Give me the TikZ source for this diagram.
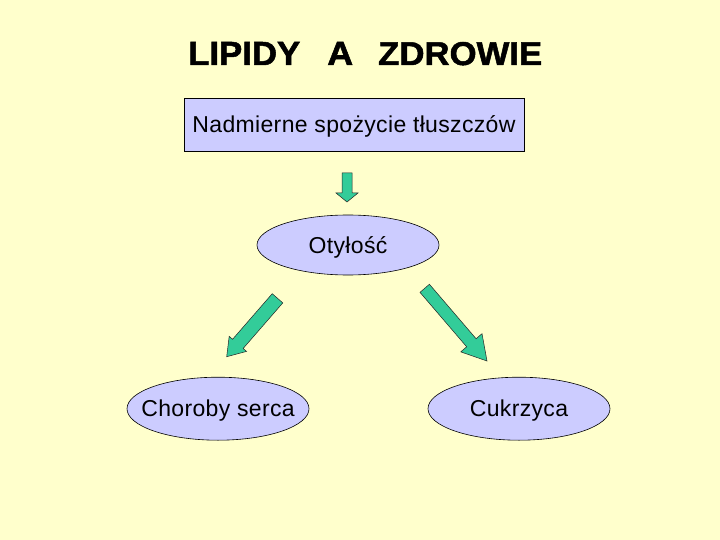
\documentclass[tikz,border=0pt]{standalone}
\usepackage{fontspec}
\setmainfont{Liberation Sans}
\usepackage{graphicx}
\usetikzlibrary{shapes.geometric,calc}
\definecolor{bgyellow}{RGB}{255,255,204}
\definecolor{lav}{RGB}{204,204,255}
\definecolor{arrowgreen}{RGB}{51,204,153}
\tikzset{
  txt/.style={font=\fontsize{23}{27}\selectfont\addfontfeatures{LetterSpace=1.5}, text height=16pt, text depth=0pt, inner sep=0pt},
  topbox/.style={txt, draw=black, fill=lav, line width=0.6pt, minimum width=340pt, minimum height=53pt},
  oval/.style={txt, ellipse, draw=black, fill=lav, line width=0.6pt, minimum width=182pt},
  blockarr/.style={draw=black!85, fill=arrowgreen, line width=0.5pt, line join=miter},
  ttl/.style={inner sep=0pt, anchor=base west, font=\bfseries\fontsize{29}{32}\selectfont\addfontfeatures{FakeBold=1.5}},
}
% tail, tip, shaft half width, head half width, head length
\newcommand\blockarrow[5]{%
  \coordinate (hbase) at ($(#2)!#5!(#1)$);
  \draw[blockarr] ($(#1)!#3!90:(#2)$) -- ($(hbase)!#3!90:(#2)$) -- ($(hbase)!#4!90:(#2)$) -- (#2)
    -- ($(hbase)!#4!-90:(#2)$) -- ($(hbase)!#3!-90:(#2)$) -- ($(#1)!#3!-90:(#2)$) -- cycle;
}
\begin{document}
\begin{tikzpicture}[x=1pt,y=-1pt]
  \path[fill=bgyellow] (0,0) rectangle (720,540);
  \useasboundingbox (0,0) rectangle (720,540);
  % title
  \node[ttl] (t1) at (188,65) {\resizebox{112pt}{23pt}{LIPIDY}};
  \node[ttl] (t2) at (327,65) {\resizebox{26pt}{23pt}{A}};
  \node[ttl] (t3) at (378,65) {\resizebox{164pt}{23pt}{ZDROWIE}};
  % boxes
  \node[topbox] (box) at (354,124.5) {Nadmierne spożycie tłuszczów};
  \node[oval, minimum height=60pt] (oty) at (348,245) {\makebox[0pt]{Otyłość}};
  \node[oval, minimum height=63pt] (chor) at (218,408.7) {\makebox[0pt]{Choroby serca}};
  \node[oval, minimum height=63pt] (cuk) at (519,408.7) {\makebox[0pt]{Cukrzyca}};
  % arrows
  \coordinate (a1t) at (347,173);
  \coordinate (a1p) at (347,202);
  \coordinate (a2t) at (277.5,298.3);
  \coordinate (a2p) at (226.7,356.7);
  \coordinate (a3t) at (424.7,288.3);
  \coordinate (a3p) at (487,361);
  \blockarrow{a1t}{a1p}{5pt}{11pt}{9pt}
  \blockarrow{a2t}{a2p}{7pt}{11.5pt}{17pt}
  \blockarrow{a3t}{a3p}{6.2pt}{14pt}{24pt}
\end{tikzpicture}
\end{document}
